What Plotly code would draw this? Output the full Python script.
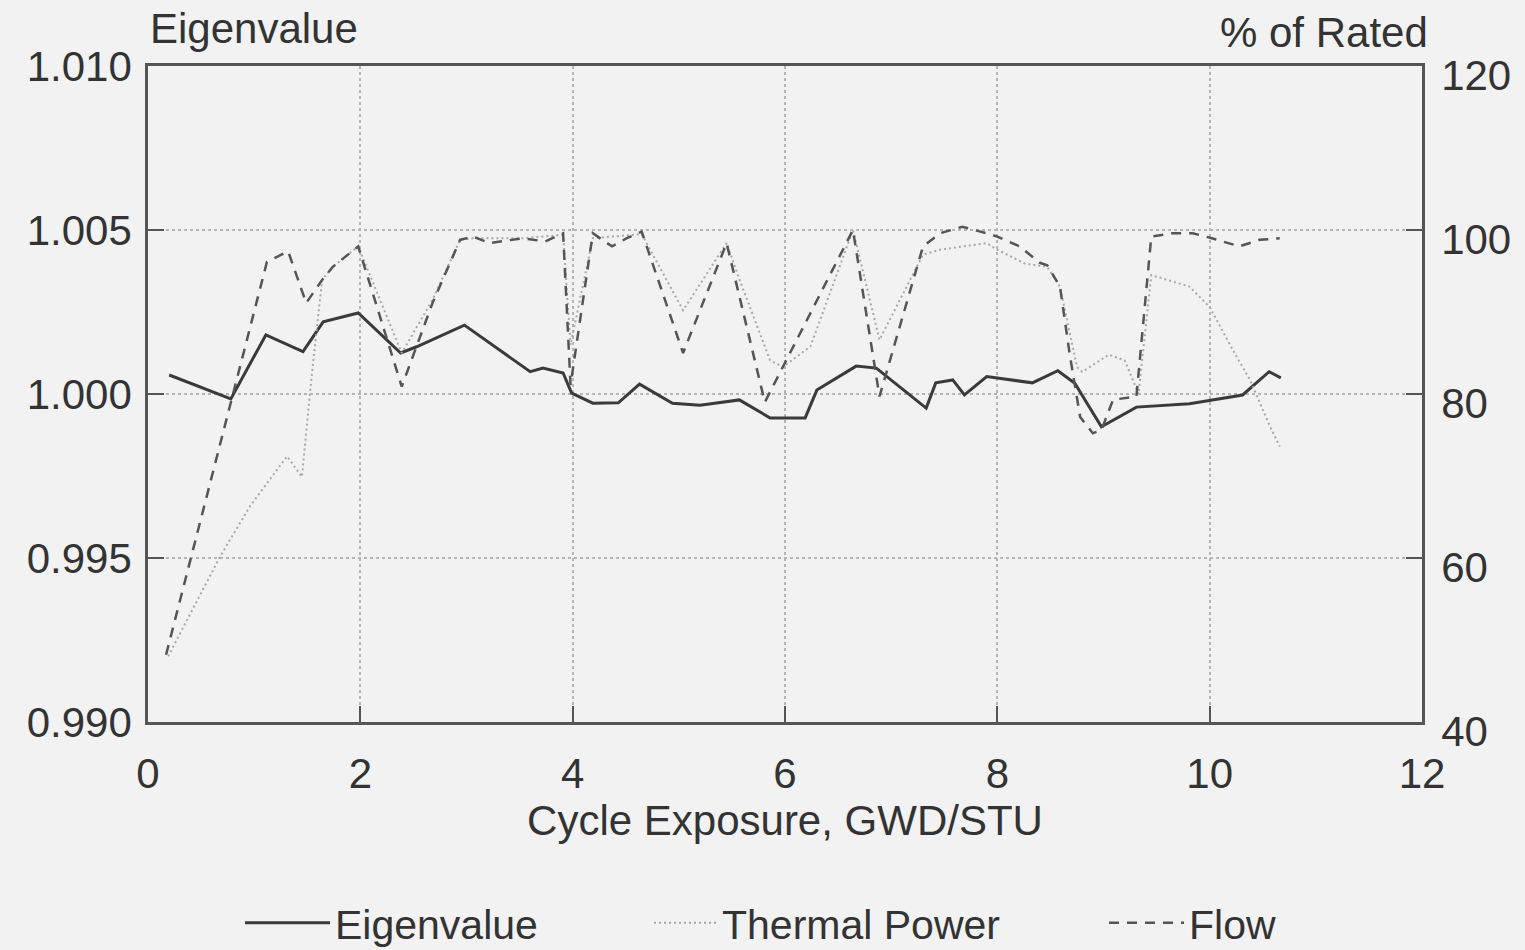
import plotly.graph_objects as go

# ---- data ----
eig_x = [0.2, 0.78, 1.11, 1.46, 1.65, 1.98, 2.38, 2.53, 2.98, 3.60, 3.72, 3.91, 3.99, 4.19,
         4.43, 4.63, 4.94, 5.20, 5.57, 5.86, 6.19, 6.30, 6.67, 6.86, 7.33, 7.42, 7.58, 7.69,
         7.90, 8.33, 8.57, 8.73, 8.98, 9.31, 9.81, 10.31, 10.56, 10.67]
eig_y = [1.00058, 0.99985, 1.0018, 1.00129, 1.0022, 1.00247, 1.00125, 1.00144, 1.0021,
         1.00068, 1.00079, 1.00064, 1.00003, 0.99972, 0.99973, 1.0003, 0.99972, 0.99966,
         0.99982, 0.99927, 0.99927, 1.00012, 1.00085, 1.00079, 0.99957, 1.00034, 1.00043,
         0.99997, 1.00053, 1.00034, 1.00071, 1.00033, 0.9990, 0.9996, 0.9997, 0.99997,
         1.00068, 1.00049]

flow_x = [0.17, 1.12, 1.32, 1.49, 1.64, 1.74, 1.98, 2.39, 2.68, 2.94, 3.06, 3.22, 3.53, 3.74,
          3.91, 3.98, 4.19, 4.32, 4.37, 4.51, 4.65, 5.04, 5.45, 5.81, 6.64, 6.89, 7.30, 7.46,
          7.67, 7.90, 8.00, 8.21, 8.40, 8.47, 8.59, 8.68, 8.78, 8.90, 8.98, 9.09, 9.31, 9.45,
          9.65, 9.84, 10.02, 10.28, 10.47, 10.66]
flow_y = [48.2, 96.1, 97.4, 91.1, 93.9, 95.5, 98.0, 80.9, 91.1, 98.8, 99.2, 98.4, 99.0, 98.6,
          99.6, 81.1, 99.6, 98.4, 98.0, 99.0, 99.8, 85.0, 98.4, 79.0, 100.0, 79.7, 98.0, 99.6,
          100.4, 99.6, 99.2, 98.0, 96.0, 95.7, 93.1, 85.0, 77.2, 75.2, 75.6, 79.3, 79.7, 99.2,
          99.6, 99.6, 99.0, 98.0, 98.8, 99.0]

power_x = [0.19, 0.68, 0.96, 1.31, 1.45, 1.54, 1.64, 1.74, 1.98, 2.39, 2.68, 2.94, 3.06, 3.53,
           3.91, 3.98, 4.19, 4.65, 5.04, 5.45, 5.57, 5.86, 5.98, 6.24, 6.33, 6.64, 6.89, 7.30,
           7.46, 7.90, 8.00, 8.26, 8.47, 8.59, 8.75, 8.80, 9.05, 9.20, 9.33, 9.45, 9.81, 10.00,
           10.20, 10.38, 10.57, 10.66]
power_y = [48.0, 60.2, 66.3, 72.4, 69.9, 82.0, 93.9, 95.5, 98.0, 85.0, 91.5, 98.8, 99.0, 99.0,
           99.4, 86.0, 99.0, 99.5, 90.2, 98.4, 94.0, 84.1, 83.3, 85.8, 89.0, 100.0, 86.6, 97.0,
           97.6, 98.4, 97.6, 95.9, 95.5, 93.1, 83.3, 82.7, 84.8, 84.1, 80.0, 94.5, 93.1, 90.6,
           85.8, 81.7, 76.0, 73.6]

x_ticks = [0, 2, 4, 6, 8, 10, 12]
y1_ticks = [0.990, 0.995, 1.000, 1.005, 1.010]
y1_labels = ["0.990", "0.995", "1.000", "1.005", "1.010"]
y2_ticks = [40, 60, 80, 100, 120]

FONT = "Liberation Sans, Arial, sans-serif"
TXT = "#333333"
BG = "#f2f2f2"
W, H = 1525, 950

fig = go.Figure()
fig.add_trace(go.Scatter(x=eig_x, y=eig_y, mode="lines", name="Eigenvalue",
                         line=dict(color="#3a3a3a", width=3), legend="legend",
                         showlegend=True))
fig.add_trace(go.Scatter(x=power_x, y=power_y, mode="lines", name="Thermal Power",
                         line=dict(color="#a8a8a8", width=2, dash="2px,3px"),
                         yaxis="y2", legend="legend2", showlegend=True))
fig.add_trace(go.Scatter(x=flow_x, y=flow_y, mode="lines", name="Flow",
                         line=dict(color="#555555", width=2.5, dash="10px,8px"),
                         yaxis="y2", legend="legend3", showlegend=True))

legend_common = dict(orientation="h", yanchor="middle", xanchor="left",
                     xref="container", yref="container",
                     y=(H - 923) / H,
                     font=dict(family=FONT, size=41, color=TXT),
                     bgcolor="rgba(0,0,0,0)")

fig.update_layout(
    width=W, height=H,
    showlegend=True,
    margin=dict(l=148, r=103, t=66, b=228, autoexpand=False),
    paper_bgcolor=BG, plot_bgcolor=BG,
    font=dict(family=FONT, size=42, color=TXT),
    xaxis=dict(range=[0, 12], tickvals=x_ticks, ticks="inside", ticklen=16,
               tickwidth=1.5, tickcolor="#555",
               showline=True, linecolor="#555", linewidth=2.5, mirror=True,
               showgrid=True, gridcolor="#b5b5b5", griddash="dot", gridwidth=1.5,
               zeroline=False, ticklabelstandoff=13, automargin=False,
               tickfont=dict(family=FONT, size=42, color=TXT),
               title=dict(text="Cycle Exposure, GWD/STU", standoff=8,
                          font=dict(family=FONT, size=42, color=TXT))),
    yaxis=dict(range=[0.990, 1.010], tickvals=y1_ticks, ticktext=y1_labels,
               ticks="inside", ticklen=16, tickwidth=1.5, tickcolor="#555",
               showline=True, linecolor="#555", linewidth=2.5, mirror=True,
               showgrid=True, gridcolor="#b5b5b5", griddash="dot", gridwidth=1.5,
               zeroline=False, ticklabelstandoff=5, automargin=False,
               tickfont=dict(family=FONT, size=42, color=TXT)),
    yaxis2=dict(range=[40, 120], tickvals=y2_ticks, overlaying="y", side="right",
                ticks="inside", ticklen=16, tickwidth=1.5, tickcolor="#555",
                showline=True, linecolor="#555", linewidth=2.5,
                showgrid=False, zeroline=False, ticklabelstandoff=8,
                ticklabelshift=9, automargin=False,
                tickfont=dict(family=FONT, size=42, color=TXT)),
    legend=dict(x=240 / W, itemwidth=85, **legend_common),
    legend2=dict(x=649 / W, itemwidth=63, **legend_common),
    legend3=dict(x=1104 / W, itemwidth=75, **legend_common),
    annotations=[
        dict(text="Eigenvalue", xref="paper", yref="paper", x=0, y=(722 - 28) / 656,
             xanchor="left", yanchor="middle", showarrow=False,
             font=dict(family=FONT, size=42, color=TXT)),
        dict(text="% of Rated", xref="paper", yref="paper", x=(1430 - 148) / 1274,
             y=(722 - 32) / 656, xanchor="right", yanchor="middle", showarrow=False,
             font=dict(family=FONT, size=42, color=TXT)),
    ],
)

fig.write_html("out.html")
